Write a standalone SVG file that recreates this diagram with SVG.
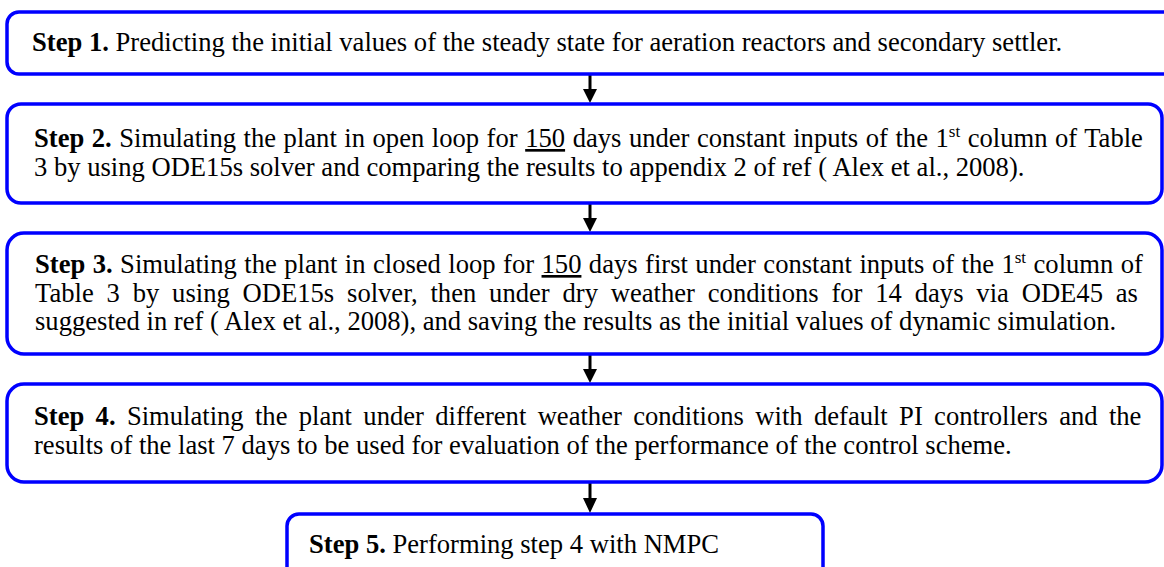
<svg xmlns="http://www.w3.org/2000/svg" width="1164" height="567" viewBox="0 0 1164 567">
<defs>
<style>
.box{fill:#ffffff;stroke:#0000ff;stroke-width:3.5}
text{font-family:"Liberation Serif","Times New Roman",serif;font-size:26.6px;fill:#000000}
.b{font-weight:bold}
.sup{font-size:17px}
.u{text-decoration:underline}
.shaft{stroke:#000000;stroke-width:3}
.head{fill:#000000}
</style>
</defs>
<rect width="1164" height="567" fill="#ffffff"/>
<g id="connectors">
<line class="shaft" x1="590" y1="75" x2="590" y2="90"/><polygon class="head" points="583,89 597,89 590,103"/>
<line class="shaft" x1="590" y1="204" x2="590" y2="219"/><polygon class="head" points="583,218 597,218 590,232"/>
<line class="shaft" x1="590" y1="355" x2="590" y2="370"/><polygon class="head" points="583,369 597,369 590,383"/>
<line class="shaft" x1="590" y1="483" x2="590" y2="499"/><polygon class="head" points="583,498 597,498 590,513"/>
</g>
<g id="step1">
<rect class="box" x="7" y="12" width="1190" height="62" rx="12"/>
<text x="32" y="51"><tspan class="b">Step 1.</tspan> Predicting the initial values of the steady state for aeration reactors and secondary settler.</text>
</g>
<g id="step2">
<rect class="box" x="7" y="104" width="1155" height="99" rx="14"/>
<text x="34" y="147" word-spacing="0.9"><tspan class="b">Step 2.</tspan> Simulating the plant in open loop for <tspan class="u">150</tspan> days under constant inputs of the 1<tspan class="sup" dy="-10">st</tspan><tspan dy="10"> column of Table</tspan></text>
<text x="34" y="176">3 by using ODE15s solver and comparing the results to appendix 2 of ref ( Alex et al., 2008).</text>
</g>
<g id="step3">
<rect class="box" x="7" y="233" width="1155" height="121" rx="17"/>
<text x="35" y="273" word-spacing="0.8"><tspan class="b">Step 3.</tspan> Simulating the plant in closed loop for <tspan class="u">150</tspan> days first under constant inputs of the 1<tspan class="sup" dy="-10">st</tspan><tspan dy="10"> column of</tspan></text>
<text x="35" y="301.5" word-spacing="6.2">Table 3 by using ODE15s solver, then under dry weather conditions for 14 days via ODE45 as</text>
<text x="35" y="330">suggested in ref ( Alex et al., 2008), and saving the results as the initial values of dynamic simulation.</text>
</g>
<g id="step4">
<rect class="box" x="7" y="384" width="1155" height="98" rx="17"/>
<text x="34" y="425" word-spacing="4.7"><tspan class="b">Step 4.</tspan> Simulating the plant under different weather conditions with default PI controllers and the</text>
<text x="34" y="454">results of the last 7 days to be used for evaluation of the performance of the control scheme.</text>
</g>
<g id="step5">
<rect class="box" x="287" y="514" width="536" height="70" rx="12"/>
<text x="309" y="553"><tspan class="b">Step 5.</tspan> Performing step 4 with NMPC</text>
</g>
</svg>
